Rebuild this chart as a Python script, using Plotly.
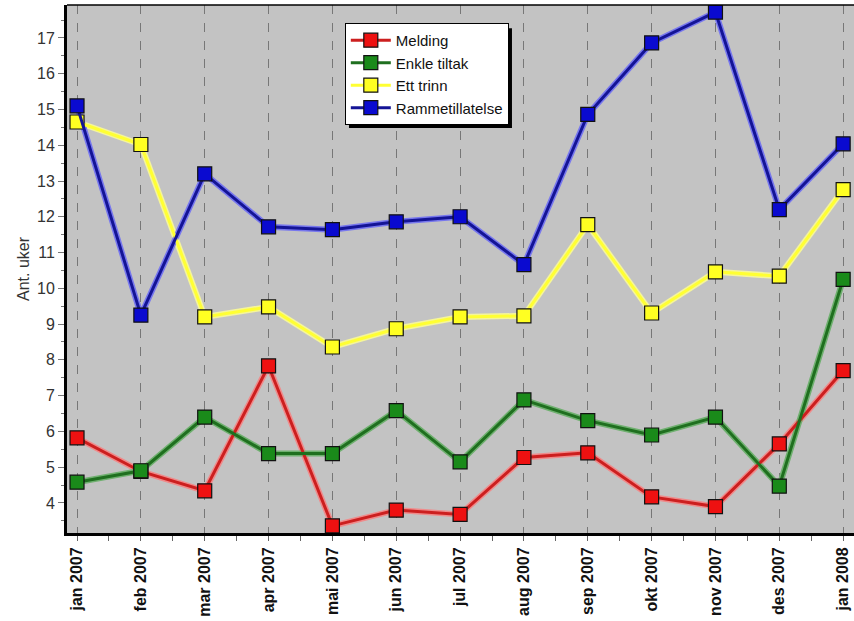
import plotly.graph_objects as go

months = ["jan 2007", "feb 2007", "mar 2007", "apr 2007", "mai 2007", "jun 2007",
          "jul 2007", "aug 2007", "sep 2007", "okt 2007", "nov 2007", "des 2007", "jan 2008"]
melding = [5.82, 4.88, 4.34, 7.83, 3.36, 3.8, 3.68, 5.27, 5.4, 4.17, 3.9, 5.65, 7.7]
enkle_tiltak = [4.58, 4.9, 6.4, 5.38, 5.38, 6.58, 5.15, 6.88, 6.3, 5.9, 6.4, 4.47, 10.25]
ett_trinn = [14.65, 14.02, 9.2, 9.48, 8.36, 8.87, 9.2, 9.23, 11.78, 9.31, 10.46, 10.34, 12.76]
rammetillatelse = [15.1, 9.25, 13.2, 11.72, 11.64, 11.86, 12.0, 10.66, 14.86, 16.86, 17.72, 12.2, 14.04]

series = [
    ("Melding", melding, "#cc1f1f", "#f08a8a", "#ee1111"),
    ("Enkle tiltak", enkle_tiltak, "#1f6f1f", "#6fb06f", "#1a8a1a"),
    ("Ett trinn", ett_trinn, "#ffff33", "#f5f59a", "#ffff22"),
    ("Rammetillatelse", rammetillatelse, "#141496", "#7777ee", "#0a0ad0"),
]

x = list(range(len(months)))
fig = go.Figure()
# halo lines
for name, vals, lc, halo, mc in series:
    fig.add_trace(go.Scatter(x=x, y=vals, mode="lines", line=dict(color=halo, width=6),
                             showlegend=False, hoverinfo="skip"))
for name, vals, lc, halo, mc in series:
    fig.add_trace(go.Scatter(
        x=x, y=vals, name=name, mode="lines+markers",
        line=dict(color=lc, width=3),
        marker=dict(symbol="square", size=14, color=mc, line=dict(color="#111111", width=1.2)),
    ))

font = "Arial, Liberation Sans, sans-serif"
fig.update_layout(
    width=854, height=621,
    margin=dict(l=67, r=0, t=5, b=88),
    paper_bgcolor="white", plot_bgcolor="#c3c3c3",
    font=dict(family=font, size=13, color="#222"),
    showlegend=True,
    legend=dict(x=0.353, y=0.966, xanchor="left", yanchor="top",
                bgcolor="white", bordercolor="black", borderwidth=1,
                font=dict(family=font, size=15, color="#111"),
                tracegroupgap=0, itemwidth=40),
    xaxis=dict(
        range=[-0.157, 12.17], tickmode="array", tickvals=x, ticktext=months,
        tickangle=-90, tickfont=dict(family=font, size=16, color="#111", weight="bold"),
        showgrid=True, gridcolor="#777777", griddash="dash", gridwidth=1,
        showline=True, linecolor="black", linewidth=3,
        ticks="outside", ticklen=5, tickcolor="#666",
        minor=dict(ticks="outside", ticklen=5, tickcolor="#666", dtick=0.5, tick0=0, showgrid=False),
        zeroline=False,
    ),
    yaxis=dict(
        range=[3.16, 17.92], tickmode="linear", tick0=0, dtick=1,
        tickfont=dict(family=font, size=16, color="#333"),
        showgrid=False, showline=True, linecolor="black", linewidth=3,
        ticks="outside", ticklen=6, tickcolor="#777",
        minor=dict(ticks="outside", ticklen=3, tickcolor="#777", dtick=0.5, showgrid=False),
        zeroline=False,
        title=dict(text="Ant. uker", font=dict(family=font, size=16, color="#333"), standoff=4),
    ),
    shapes=[
        dict(type="line", xref="paper", yref="paper", x0=0, x1=1, y0=1, y1=1,
             line=dict(color="black", width=1.5)),
        dict(type="rect", xref="paper", yref="paper",
             x0=0.3583, x1=0.5654, y0=0.767, y1=0.956,
             fillcolor="black", line=dict(width=0), layer="above"),
    ],
)

fig.write_html("out.html")
